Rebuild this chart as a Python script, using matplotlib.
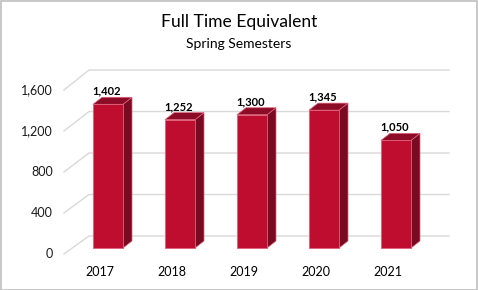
import matplotlib.pyplot as plt
import numpy as np
from matplotlib.patches import Polygon, Rectangle

years = ["2017", "2018", "2019", "2020", "2021"]
fte = [1402, 1252, 1300, 1345, 1050]
ticks = [0, 400, 800, 1200, 1600]

front_col = "#BE0D2F"
side_col = "#780A22"
top_col = "#8C0C28"
edge_col = "#E0607A"
grid_col = "#D9D9D9"

plt.rcParams['font.family'] = ['Lato', 'DejaVu Sans']

W, H = 478, 290
fig = plt.figure(figsize=(W / 100, H / 100), dpi=100)
ax = fig.add_axes([0, 0, 1, 1])

# pixel -> data mapping (bars at x = index, y = value)
px_per_cat = 72.0
px_per_val = 164.0 / 1600
x0_px, y0_px = 108.0, 248.0
ax.set_xlim(-x0_px / px_per_cat, (W - x0_px) / px_per_cat)
ax.set_ylim((y0_px - H) / px_per_val, y0_px / px_per_val)
ax.axis('off')

bw = 30 / px_per_cat
dx = 9 / px_per_cat
dy = 7 / px_per_val

# 3D-ish gridlines: diagonal floor stub then back wall line
x_front = (64 - x0_px) / px_per_cat
x_back = (89 - x0_px) / px_per_cat
x_right = (449 - x0_px) / px_per_cat
for t in ticks:
    yf = t - 58
    yb = t * 1.012 + 117
    ax.plot([x_front, x_back, x_right], [yf, yb, yb], color=grid_col, lw=1.0, zorder=1)
    ax.text((53 - x0_px) / px_per_cat, yf, f"{t:,}", ha='right', va='center',
            fontsize=9, color='#1a1a1a')

x = np.arange(len(years))
ax.bar(x, fte, width=bw, color=front_col, edgecolor=edge_col, linewidth=0.6, zorder=3)
for xi, v in zip(x, fte):
    l, r = xi - bw / 2, xi + bw / 2
    side = Polygon([(r, 0), (r + dx, dy), (r + dx, v + dy), (r, v)], closed=True,
                   facecolor=side_col, edgecolor=edge_col, lw=0.5, zorder=2.9)
    top = Polygon([(l, v), (l + dx, v + dy), (r + dx, v + dy), (r, v)], closed=True,
                  facecolor=top_col, edgecolor=edge_col, lw=0.5, zorder=2.9)
    ax.add_patch(side)
    ax.add_patch(top)
    ax.text(xi - 0.02, v + dy + 8, f"{v:,}", ha='center', va='bottom',
            fontsize=8, fontweight='bold', color='black', zorder=4)

for xi, yr in zip(x, years):
    ax.text(xi - 8 / px_per_cat, (y0_px - 272) / px_per_val, yr, ha='center',
            va='center', fontsize=9, color='black')

fig.text(239 / W, 1 - 22 / H, "Full Time Equivalent", ha='center', va='center', fontsize=12.6)
fig.text(239 / W, 1 - 44 / H, "Spring Semesters", ha='center', va='center', fontsize=10)

fig.patches.append(Rectangle((0.5 / W, 0.5 / H), 1 - 1.5 / W, 1 - 1.5 / H,
                             transform=fig.transFigure, fill=False,
                             edgecolor='#BFBFBF', lw=1.2))

plt.savefig("out.png", dpi=100)
